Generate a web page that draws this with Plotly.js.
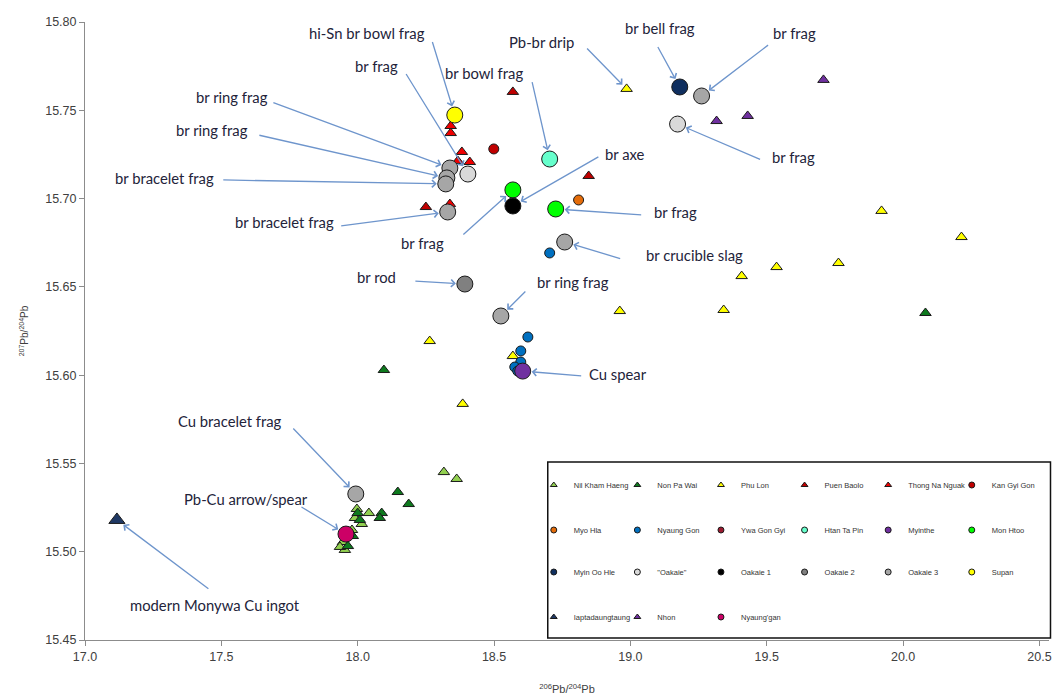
<!DOCTYPE html>
<html><head><meta charset="utf-8">
<script src="https://cdn.plot.ly/plotly-3.0.1.min.js"></script>
<style>html,body{margin:0;padding:0;background:#fff}#chart{width:1057px;height:697px}</style>
</head><body><div id="chart"></div>
<script>
// ---------- data (206Pb/204Pb, 207Pb/204Pb) ----------
const nilKhamHaengX = [17.997, 18.041, 18.015, 17.990, 17.979, 17.946, 17.953, 17.935, 18.316, 18.363];
const nilKhamHaengY = [15.5242, 15.5219, 15.5157, 15.5191, 15.5123, 15.5055, 15.5010, 15.5027, 15.5451, 15.5412];
const nonPaWaiX = [18.096, 20.082, 18.147, 18.187, 18.088, 18.081, 18.000, 18.008, 17.982, 17.964];
const nonPaWaiY = [15.6029, 15.6352, 15.5338, 15.5270, 15.5219, 15.5191, 15.5219, 15.5180, 15.5089, 15.5032];
const phuLonX = [18.986, 19.921, 20.214, 19.763, 19.536, 19.408, 19.342, 18.961, 18.264, 18.385, 18.569];
const phuLonY = [15.7621, 15.6930, 15.6782, 15.6635, 15.6612, 15.6561, 15.6369, 15.6363, 15.6193, 15.5837, 15.6108];
const puenBaoloX = [18.569, 18.847, 18.250];
const puenBaoloY = [15.7604, 15.7128, 15.6952];
const thongNaNguakX = [18.341, 18.341, 18.382, 18.411, 18.367, 18.338];
const thongNaNguakY = [15.7411, 15.7371, 15.7264, 15.7207, 15.7213, 15.6969];
const kanGyiGonX = [18.499];
const kanGyiGonY = [15.7281];
const myoHlaX = [18.810];
const myoHlaY = [15.6992];
const nyaungGonX = [18.704, 18.624, 18.598, 18.598, 18.576, 18.587];
const nyaungGonY = [15.6692, 15.6216, 15.6137, 15.6074, 15.6046, 15.6023];
const ywaGonGyiX = [];
const ywaGonGyiY = [];
const htanTaPinX = [18.704];
const htanTaPinY = [15.7224];
const myintheX = [18.605];
const myintheY = [15.6023];
const monHtooX = [18.569, 18.726];
const monHtooY = [15.7049, 15.6941];
const myinOoHleX = [19.181];
const myinOoHleY = [15.7632];
const oakaieX = [19.173, 18.404];
const oakaieY = [15.7422, 15.7139];
const oakaie1X = [18.569];
const oakaie1Y = [15.6958];
const oakaie2X = [18.393];
const oakaie2Y = [15.6516];
const oakaie3X = [19.261, 18.759, 18.525, 18.338, 18.327, 18.323, 18.330, 17.993];
const oakaie3Y = [15.7581, 15.6754, 15.6335, 15.7173, 15.7117, 15.7083, 15.6924, 15.5327];
const supanX = [18.356];
const supanY = [15.7473];
const iaptadaungtaungX = [17.117];
const iaptadaungtaungY = [15.5180];
const nhonX = [19.708, 19.316, 19.430];
const nhonY = [15.7672, 15.7439, 15.7468];
const nyaunggganX = [17.957];
const nyaunggganY = [15.5100];

const seriesNames = ["Nil Kham Haeng", "Non Pa Wai", "Phu Lon", "Puen Baolo", "Thong Na Nguak", "Kan Gyi Gon",
  "Myo Hla", "Nyaung Gon", "Ywa Gon Gyi", "Htan Ta Pin", "Myinthe", "Mon Htoo",
  "Myin Oo Hle", "\"Oakaie\"", "Oakaie 1", "Oakaie 2", "Oakaie 3", "Supan",
  "Iaptadaungtaung", "Nhon", "Nyaung'gan"];
const seriesX = [nilKhamHaengX, nonPaWaiX, phuLonX, puenBaoloX, thongNaNguakX, kanGyiGonX,
  myoHlaX, nyaungGonX, ywaGonGyiX, htanTaPinX, myintheX, monHtooX,
  myinOoHleX, oakaieX, oakaie1X, oakaie2X, oakaie3X, supanX,
  iaptadaungtaungX, nhonX, nyaunggganX];
const seriesY = [nilKhamHaengY, nonPaWaiY, phuLonY, puenBaoloY, thongNaNguakY, kanGyiGonY,
  myoHlaY, nyaungGonY, ywaGonGyiY, htanTaPinY, myintheY, monHtooY,
  myinOoHleY, oakaieY, oakaie1Y, oakaie2Y, oakaie3Y, supanY,
  iaptadaungtaungY, nhonY, nyaunggganY];

const xTicks = [17.0, 17.5, 18.0, 18.5, 19.0, 19.5, 20.0, 20.5];
const yTicks = [15.45, 15.50, 15.55, 15.60, 15.65, 15.70, 15.75, 15.80];

// ---------- styles ----------
const styles = {
  "Nil Kham Haeng": {symbol: "triangle-up", color: "#92D050", size: 10},
  "Non Pa Wai": {symbol: "triangle-up", color: "#0E7A1E", size: 10},
  "Phu Lon": {symbol: "triangle-up", color: "#FFFF00", size: 10},
  "Puen Baolo": {symbol: "triangle-up", color: "#C00000", size: 10},
  "Thong Na Nguak": {symbol: "triangle-up", color: "#F00000", size: 10},
  "Kan Gyi Gon": {symbol: "circle", color: "#C00000", size: 10},
  "Myo Hla": {symbol: "circle", color: "#E46C0A", size: 10},
  "Nyaung Gon": {symbol: "circle", color: "#0070C0", size: 10},
  "Ywa Gon Gyi": {symbol: "circle", color: "#9B1B30", size: 10},
  "Htan Ta Pin": {symbol: "circle", color: "#66FFCC", size: 16},
  "Myinthe": {symbol: "circle", color: "#7030A0", size: 16},
  "Mon Htoo": {symbol: "circle", color: "#00FF00", size: 16},
  "Myin Oo Hle": {symbol: "circle", color: "#0F2F5F", size: 16},
  "\"Oakaie\"": {symbol: "circle", color: "#D9D9D9", size: 16},
  "Oakaie 1": {symbol: "circle", color: "#000000", size: 16},
  "Oakaie 2": {symbol: "circle", color: "#808080", size: 16},
  "Oakaie 3": {symbol: "circle", color: "#A6A6A6", size: 16},
  "Supan": {symbol: "circle", color: "#FFFF00", size: 16},
  "Iaptadaungtaung": {symbol: "triangle-up", color: "#1F3864", size: 14},
  "Nhon": {symbol: "triangle-up", color: "#7030A0", size: 10},
  "Nyaung'gan": {symbol: "circle", color: "#CC0066", size: 16}
};

const traces = [];
seriesNames.forEach((name, i) => {
  const s = styles[name];
  traces.push({
    type: "scatter", mode: "markers", x: seriesX[i], y: seriesY[i], name: name,
    showlegend: false, hoverinfo: "x+y+name",
    marker: {symbol: s.symbol, color: s.color, size: s.size, line: {color: "#1a1a1a", width: 1}}
  });
});
const legendIds = ["legend", "legend2", "legend3", "legend4"];
seriesNames.forEach((name, i) => {
  const s = styles[name];
  traces.push({
    type: "scatter", mode: "markers", x: [null], y: [null], name: name,
    showlegend: true, legend: legendIds[Math.floor(i / 6)], hoverinfo: "skip",
    marker: {symbol: s.symbol, color: s.color, size: 6, line: {color: "#1a1a1a", width: 1}}
  });
});

// ---------- callouts (label offset and arrow tail offset in px from the target point) ----------
const callouts = [
  {text: "hi-Sn br bowl frag", s: "Supan", i: 0, tx: -88, ty: -82, ax: -23, ay: -75},
  {text: "br frag", s: "\"Oakaie\"", i: 1, tx: -91, ty: -108, ax: -63, ay: -102},
  {text: "br ring frag", s: "Oakaie 3", i: 3, tx: -218, ty: -71, ax: -178, ay: -66},
  {text: "br ring frag", s: "Oakaie 3", i: 4, tx: -235, ty: -48, ax: -189, ay: -43},
  {text: "br bracelet frag", s: "Oakaie 3", i: 5, tx: -281, ty: -6, ax: -224, ay: -4},
  {text: "br bracelet frag", s: "Oakaie 3", i: 6, tx: -163, ty: 10, ax: -108, ay: 14},
  {text: "br frag", s: "Mon Htoo", i: 0, tx: -90, ty: 53, ax: -51, ay: 46},
  {text: "br rod", s: "Oakaie 2", i: 0, tx: -88, ty: -7, ax: -51, ay: -3},
  {text: "br bowl frag", s: "Htan Ta Pin", i: 0, tx: -66, ty: -86, ax: -18, ay: -79},
  {text: "Pb-br drip", s: "Phu Lon", i: 0, tx: -85, ty: -47, ax: -41, ay: -42},
  {text: "br bell frag", s: "Myin Oo Hle", i: 0, tx: -20, ty: -59, ax: -23, ay: -42},
  {text: "br frag", s: "Oakaie 3", i: 0, tx: 93, ty: -63, ax: 68, ay: -52},
  {text: "br frag", s: "\"Oakaie\"", i: 0, tx: 116, ty: 33, ax: 84, ay: 36},
  {text: "br axe", s: "Oakaie 1", i: 0, tx: 112, ty: -52, ax: 87, ay: -50},
  {text: "br frag", s: "Mon Htoo", i: 1, tx: 120, ty: 3, ax: 87, ay: 6},
  {text: "br crucible slag", s: "Oakaie 3", i: 1, tx: 130, ty: 13, ax: 57, ay: 17},
  {text: "br ring frag", s: "Oakaie 3", i: 2, tx: 72, ty: -34, ax: 26, ay: -26},
  {text: "Cu spear", s: "Myinthe", i: 0, tx: 95, ty: 3, ax: 60, ay: 5},
  {text: "Cu bracelet frag", s: "Oakaie 3", i: 7, tx: -126, ty: -73, ax: -64, ay: -67},
  {text: "Pb-Cu arrow/spear", s: "Nyaung'gan", i: 0, tx: -100, ty: -35, ax: -46, ay: -28},
  {text: "modern Monywa Cu ingot", s: "Iaptadaungtaung", i: 0, tx: 98, ty: 85, ax: 93, ay: 70}
];

const annotations = [];
callouts.forEach(c => {
  const k = seriesNames.indexOf(c.s);
  const px = seriesX[k][c.i], py = seriesY[k][c.i];
  const r = styles[c.s].size / 2 + 1;
  annotations.push({x: px, y: py, xref: "x", yref: "y", text: " ", showarrow: true,
    ax: c.ax, ay: c.ay, arrowhead: 4, arrowsize: 1.1, arrowwidth: 1.3, arrowcolor: "#6E95CC", standoff: r,
    font: {size: 1}});
  annotations.push({x: px, y: py, xref: "x", yref: "y", text: c.text, showarrow: true,
    ax: c.tx, ay: c.ty, arrowcolor: "rgba(0,0,0,0)", arrowwidth: 0.1,
    font: {family: "Lato, 'Open Sans', sans-serif", size: 14.8, color: "#23233a"}});
});

const L = 85, R = 1049.5, T = 22, B = 640;
const pw = R - L, ph = B - T;
const fx = p => (p - L) / pw, fy = p => (B - p) / ph;
const legendBase = {orientation: "h", xanchor: "left", yanchor: "middle", x: fx(534),
  entrywidth: 38.6, entrywidthmode: "pixels", bgcolor: "rgba(0,0,0,0)", borderwidth: 0,
  font: {family: "'Liberation Sans', Arial, sans-serif", size: 7.5, color: "#333"}, itemclick: false};

const layout = {
  width: 1057, height: 697,
  margin: {l: L, r: 1057 - R, t: T, b: 697 - B},
  paper_bgcolor: "#fff", plot_bgcolor: "#fff",
  showlegend: true,
  xaxis: {range: [17, 20.535], tickvals: xTicks, ticktext: xTicks.map(v => v.toFixed(1)),
    showgrid: false, zeroline: false, showline: true, linecolor: "#8c8c8c", linewidth: 1,
    ticks: "outside", ticklen: 5, tickcolor: "#8c8c8c",
    tickfont: {family: "'Liberation Sans Narrow', 'Liberation Sans', Arial, sans-serif", size: 12.5, color: "#404040"},
    title: {text: "<sup>206</sup>Pb/<sup>204</sup>Pb", standoff: 22,
      font: {family: "'Liberation Sans Narrow', 'Liberation Sans', Arial, sans-serif", size: 11, color: "#404040"}}},
  yaxis: {range: [15.45, 15.80], tickvals: yTicks, ticktext: yTicks.map(v => v.toFixed(2)),
    showgrid: false, zeroline: false, showline: true, linecolor: "#8c8c8c", linewidth: 1,
    ticks: "outside", ticklen: 5, tickcolor: "#8c8c8c",
    tickfont: {family: "'Liberation Sans', Arial, sans-serif", size: 12.5, color: "#404040"},
    title: {text: "<sup>207</sup>Pb/<sup>204</sup>Pb", standoff: 14,
      font: {family: "'Liberation Sans', Arial, sans-serif", size: 10, color: "#404040"}}},
  legend: Object.assign({}, legendBase, {y: fy(485)}),
  legend2: Object.assign({}, legendBase, {y: fy(530)}),
  legend3: Object.assign({}, legendBase, {y: fy(572)}),
  legend4: Object.assign({}, legendBase, {y: fy(617)}),
  shapes: [{type: "rect", xref: "paper", yref: "paper", x0: fx(548), x1: fx(1051), y0: fy(638), y1: fy(462),
    line: {color: "#111", width: 1.5}, fillcolor: "rgba(255,255,255,1)", layer: "above"}],
  annotations: annotations
};

Plotly.newPlot("chart", traces, layout, {displayModeBar: false, staticPlot: true});
</script>
</body></html>
